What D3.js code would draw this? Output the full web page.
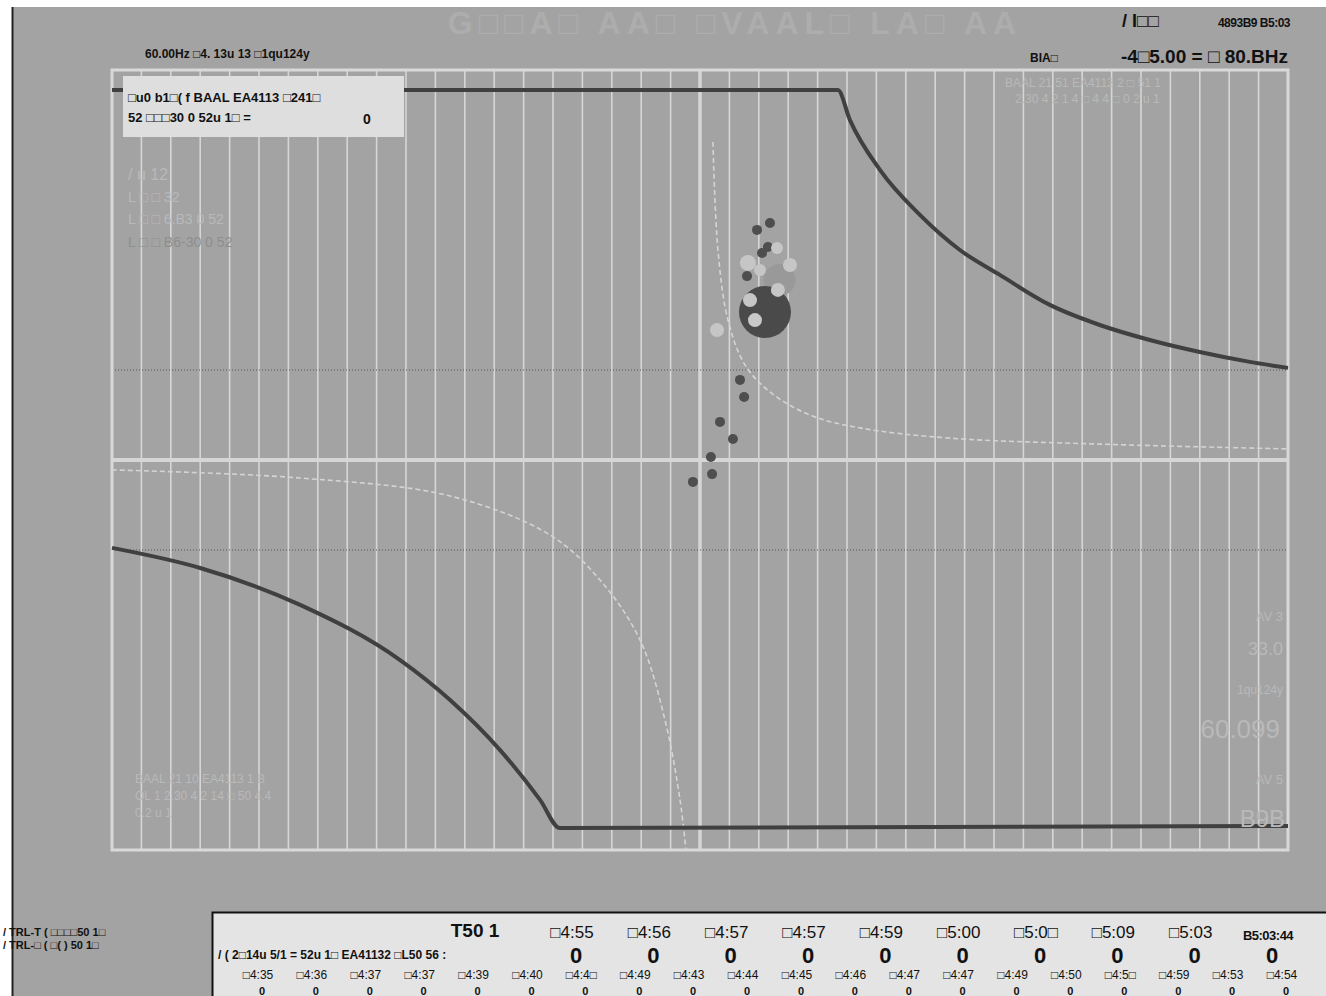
<!DOCTYPE html>
<html>
<head>
<meta charset="utf-8">
<script src="https://cdn.jsdelivr.net/npm/d3@7"></script>
<style>
  body { margin: 0; background: #fff; }
  svg { display: block; font-family: "Liberation Sans", Arial, sans-serif; }
</style>
</head>
<body>
<script>
const width = 1326;
const height = 996;

// grid: one vertical line per unit of x
const gridX = d3.range(-20, 21);
const guideY = [3, -3];

// solid limit curves [x, y]
const upperLimit = [[-20, 12.33], [4.69, 12.33], [5.1, 11.33], [6.12, 9.67], [7.48, 8.17], [8.84, 7.0],
  [10.2, 6.17], [11.9, 5.17], [13.6, 4.5], [15.3, 4.0], [17.0, 3.6], [18.7, 3.27], [20, 3.07]];
const lowerLimit = [[-20, -2.93], [-17, -3.6], [-13.6, -4.83], [-10.2, -6.67], [-8.5, -8.0], [-6.8, -9.67],
  [-5.44, -11.33], [-4.76, -12.27], [20, -12.2]];

// dashed reference curves
const upperDash = [[0.44, 10.6], [0.61, 7.0], [0.95, 4.67], [1.53, 3.17], [2.38, 2.27], [3.74, 1.5],
  [5.44, 1.07], [8.5, 0.73], [13.6, 0.53], [20, 0.37]];
const lowerDash = [[-20, -0.33], [-13.6, -0.6], [-8.5, -1.2], [-5.1, -2.5], [-3.4, -4.0], [-2.04, -6.0],
  [-1.19, -8.67], [-0.68, -11.33], [-0.48, -13]];

// measured points: x, y, radius, tone
const pointX = [2.38, 1.94, 2.31, 2.11, 2.62, 1.63, 3.06, 1.6, 2.04, 2.65, 1.7, 0.58, 1.36, 1.5, 0.68, 1.12, 0.37, 0.41, -0.24];
const pointY = [7.9, 7.67, 7.1, 6.9, 7.07, 6.57, 6.5, 6.13, 6.33, 5.67, 5.33, 4.33, 2.67, 2.1, 1.27, 0.7, 0.1, -0.47, -0.73];
const pointR = [5, 5, 5, 5, 6, 8, 7, 5, 6, 7, 7, 7, 5, 5, 5, 5, 5, 5, 5];
const pointTone = ["d", "d", "d", "d", "l", "l", "l", "d", "l", "l", "l", "l", "d", "d", "d", "d", "d", "d", "d"];
const lastPoint = [2.21, 4.93];

// bottom panel times
const topTimes = ["□4:55", "□4:56", "□4:57", "□4:57", "□4:59", "□5:00", "□5:0□", "□5:09", "□5:03"];
const topCounts = [0, 0, 0, 0, 0, 0, 0, 0, 0, 0];
const lowTimes = ["□4:35", "□4:36", "□4:37", "□4:37", "□4:39", "□4:40", "□4:4□", "□4:49", "□4:43", "□4:44",
  "□4:45", "□4:46", "□4:47", "□4:47", "□4:49", "□4:50", "□4:5□", "□4:59", "□4:53", "□4:54"];
const lowCounts = [0, 0, 0, 0, 0, 0, 0, 0, 0, 0, 0, 0, 0, 0, 0, 0, 0, 0, 0, 0];

const svg = d3.select("body").append("svg")
  .attr("width", width)
  .attr("height", height);

// screen background
svg.append("rect").attr("x", 12).attr("y", 7).attr("width", width - 12).attr("height", height - 7)
  .attr("fill", "#a3a3a3");
svg.append("line").attr("x1", 12.5).attr("x2", 12.5).attr("y1", 7).attr("y2", height)
  .attr("stroke", "#222").attr("stroke-width", 2);

const x = d3.scaleLinear().domain([-20, 20]).range([112, 1288]);
const y = d3.scaleLinear().domain([-13, 13]).range([850, 70]);

// faint title
svg.append("text").attr("x", 735).attr("y", 34).attr("text-anchor", "middle")
  .attr("fill", "#adadad").style("font-size", "32px").style("font-weight", "bold")
  .style("letter-spacing", "6px")
  .text("G□□A□ AA□ □VAAL□ LA□ AA");

const g = svg.append("g");

// vertical grid
g.selectAll(".gx").data(gridX).join("line")
  .attr("x1", d => x(d)).attr("x2", d => x(d))
  .attr("y1", y(13)).attr("y2", y(-13))
  .attr("stroke", "#d6d6d6")
  .attr("stroke-width", d => d === 0 ? 3.5 : 1.6);

// guide lines
g.selectAll(".gy").data(guideY).join("line")
  .attr("x1", x(-20)).attr("x2", x(20))
  .attr("y1", d => y(d)).attr("y2", d => y(d))
  .attr("stroke", "#555").attr("stroke-width", 1).attr("stroke-dasharray", "1,2");

g.append("line")
  .attr("x1", x(-20)).attr("x2", x(20)).attr("y1", y(0)).attr("y2", y(0))
  .attr("stroke", "#d6d6d6").attr("stroke-width", 4);

// frame
g.append("rect")
  .attr("x", x(-20)).attr("y", y(13))
  .attr("width", x(20) - x(-20)).attr("height", y(-13) - y(13))
  .attr("fill", "none").attr("stroke", "#d9d9d9").attr("stroke-width", 3);

// dashed reference curves
g.selectAll(".dash").data([upperDash, lowerDash]).join("path")
  .attr("d", d3.line().x(d => x(d[0])).y(d => y(d[1])).curve(d3.curveCatmullRom))
  .attr("fill", "none").attr("stroke", "#d4d4d4").attr("stroke-width", 1.6)
  .attr("stroke-dasharray", "5,3");

// limit curves
g.selectAll(".lim").data([upperLimit, lowerLimit]).join("path")
  .attr("d", d3.line().x(d => x(d[0])).y(d => y(d[1])).curve(d3.curveMonotoneX))
  .attr("fill", "none").attr("stroke", "#404040").attr("stroke-width", 4);

// faint legend / info texts
const faint = "#b9b9b9";
const leftNotes = [["/ u 12", 180, 16], ["L  □ □ 32", 202, 14], ["L  □ □ 6.B3 0 52", 224, 14], ["L  □ □ B6-30 0 52", 247, 14]];
g.selectAll(".ln").data(leftNotes).join("text")
  .attr("x", 128).attr("y", d => d[1])
  .attr("fill", (d, i) => i === 3 ? "#8e8e8e" : faint)
  .style("font-size", d => d[2] + "px")
  .text(d => d[0]);

g.append("text").attr("x", 1005).attr("y", 87).attr("fill", faint).style("font-size", "12px")
  .text("BAAL   21 51 EA4113 2 □ 51 1");
g.append("text").attr("x", 1015).attr("y", 103).attr("fill", faint).style("font-size", "12px")
  .text("2.30 4 2  1 4 □ 4 4 □ 0 2 u 1");

const bl = [["BAAL    21 10 EA4113 1 B", 783], ["OL 1    2.30 4 2 14 □ 50 4.4", 800], ["0.2 u 1", 817]];
g.selectAll(".bl").data(bl).join("text")
  .attr("x", 135).attr("y", d => d[1]).attr("fill", faint).style("font-size", "12px")
  .text(d => d[0]);

const rightNotes = [["AV 3", 1283, 621, 13], ["33.0", 1283, 655, 18], ["1qu124y", 1283, 694, 12],
  ["60.099", 1280, 738, 26], ["AV 5", 1283, 784, 13], ["B9B", 1285, 827, 24]];
g.selectAll(".rn").data(rightNotes).join("text")
  .attr("x", d => d[1]).attr("y", d => d[2]).attr("text-anchor", "end")
  .attr("fill", faint).style("font-size", d => d[3] + "px")
  .text(d => d[0]);

// measured points
const pts = pointX.map((v, i) => ({ x: v, y: pointY[i], r: pointR[i], t: pointTone[i] }));
g.append("circle").attr("cx", x(2.7)).attr("cy", y(6.0)).attr("r", 16).attr("fill", "#999");
g.append("circle").attr("cx", x(lastPoint[0])).attr("cy", y(lastPoint[1])).attr("r", 26).attr("fill", "#4a4a4a");
g.append("circle").attr("cx", x(lastPoint[0]) - 10).attr("cy", y(lastPoint[1]) + 8).attr("r", 7).attr("fill", "#c9c9c9");
g.selectAll(".pt").data(pts).join("circle")
  .attr("cx", d => x(d.x)).attr("cy", d => y(d.y)).attr("r", d => d.r)
  .attr("fill", d => d.t === "d" ? "#4e4e4e" : "#c6c6c6");

// header texts
svg.append("text").attr("x", 145).attr("y", 58).style("font-size", "12px").style("font-weight", "bold")
  .attr("fill", "#111").text("60.00Hz □4. 13u 13 □1qu124y");
svg.append("text").attr("x", 1122).attr("y", 27).style("font-size", "18px").style("font-weight", "bold")
  .attr("fill", "#111").text("/ I□□");
svg.append("text").attr("x", 1290).attr("y", 27).attr("text-anchor", "end").style("font-size", "12px")
  .style("font-weight", "bold").attr("fill", "#111").style("letter-spacing", "-0.5px").text("4893B9 B5:03");
svg.append("text").attr("x", 1030).attr("y", 62).style("font-size", "12px").style("font-weight", "bold")
  .attr("fill", "#111").text("BIA□");
svg.append("text").attr("x", 1288).attr("y", 63).attr("text-anchor", "end").style("font-size", "19px")
  .style("font-weight", "bold").attr("fill", "#111").text("-4□5.00 = □ 80.BHz");

// info box
svg.append("rect").attr("x", 123).attr("y", 76).attr("width", 281).attr("height", 61).attr("fill", "#dedede");
svg.append("text").attr("x", 128).attr("y", 102).style("font-size", "13px").style("font-weight", "bold")
  .attr("fill", "#111").text("□u0 b1□( f BAAL EA4113 □241□");
svg.append("text").attr("x", 128).attr("y", 122).style("font-size", "13px").style("font-weight", "bold")
  .attr("fill", "#111").text("52 □□□30 0 52u 1□ =");
svg.append("text").attr("x", 367).attr("y", 124).attr("text-anchor", "middle").style("font-size", "14px")
  .style("font-weight", "bold").attr("fill", "#111").text("0");

// bottom-left status
svg.append("text").attr("x", 3).attr("y", 936).style("font-size", "11px").style("font-weight", "bold")
  .attr("fill", "#111").text("/ TRL-T  (  □□□□50 1□");
svg.append("text").attr("x", 3).attr("y", 949).style("font-size", "11px").style("font-weight", "bold")
  .attr("fill", "#111").text("/ TRL-□ ( □( ) 50 1□");

// bottom panel
const panel = svg.append("g");
panel.append("rect").attr("x", 212).attr("y", 912).attr("width", width - 212).attr("height", height - 912)
  .attr("fill", "#e4e4e4");
panel.append("path").attr("d", `M212.5,${height}V912.5H${width}`).attr("fill", "none")
  .attr("stroke", "#111").attr("stroke-width", 2);
panel.append("text").attr("x", 475).attr("y", 937).attr("text-anchor", "middle").style("font-size", "19px")
  .style("font-weight", "bold").attr("fill", "#111").text("T50 1");
panel.append("text").attr("x", 218).attr("y", 959).style("font-size", "12px").style("font-weight", "bold")
  .attr("fill", "#111").text("/ ( 2□14u 5/1 = 52u 1□ EA41132 □L50 56 :");

const topBand = d3.scalePoint().domain(d3.range(10)).range([572, 1268]);
const lowBand = d3.scalePoint().domain(d3.range(20)).range([258, 1282]);

panel.selectAll(".tt").data(topTimes).join("text")
  .attr("x", (d, i) => topBand(i)).attr("y", 938).attr("text-anchor", "middle")
  .style("font-size", "17px").attr("fill", "#111").text(d => d);
panel.append("text").attr("x", topBand(9)).attr("y", 940).attr("text-anchor", "middle")
  .style("font-size", "13px").style("font-weight", "bold").attr("fill", "#111")
  .style("letter-spacing", "-0.5px").text("B5:03:44");
panel.selectAll(".tc").data(topCounts).join("text")
  .attr("x", (d, i) => topBand(i) + 4).attr("y", 963).attr("text-anchor", "middle")
  .style("font-size", "22px").style("font-weight", "bold").attr("fill", "#111").text(d => d);

panel.selectAll(".lt").data(lowTimes).join("text")
  .attr("x", (d, i) => lowBand(i)).attr("y", 979).attr("text-anchor", "middle")
  .style("font-size", "12px").attr("fill", "#111").text(d => d);
panel.selectAll(".lc").data(lowCounts).join("text")
  .attr("x", (d, i) => lowBand(i) + 4).attr("y", 995).attr("text-anchor", "middle")
  .style("font-size", "11px").style("font-weight", "bold").attr("fill", "#111").text(d => d);
</script>
</body>
</html>
